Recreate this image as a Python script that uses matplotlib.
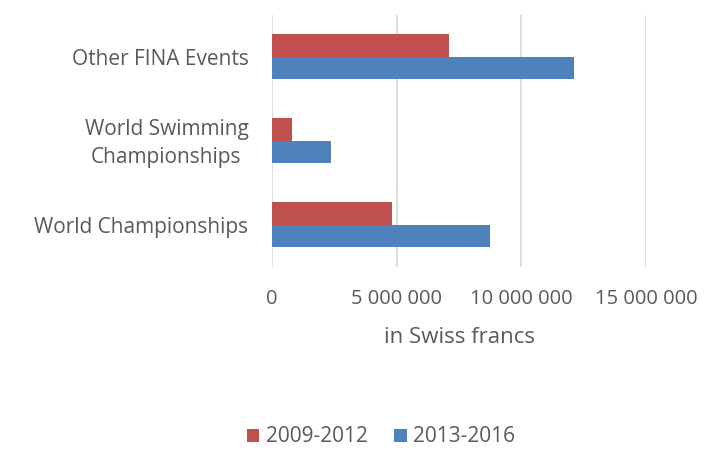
import matplotlib
matplotlib.use("Agg")
import matplotlib.pyplot as plt
import matplotlib.transforms as mtransforms
import numpy as np
from matplotlib.ticker import FuncFormatter

categories = ["World Championships", "World Swimming\nChampionships", "Other FINA Events"]
series_names = ["2009-2012", "2013-2016"]
values_2009_2012 = [4800000, 800000, 7100000]
values_2013_2016 = [8750000, 2350000, 12100000]
colors = ["#C0504D", "#4F81BD"]

plt.rcParams['font.family'] = ['Open Sans', 'DejaVu Sans']
text_color = "#595959"

fig = plt.figure(figsize=(7.27, 4.51), dpi=100)
ax = fig.add_axes([272/727, 1-266.5/451, (646-272)/727, 252/451])

y = np.arange(len(categories))
h = 0.268
ax.barh(y + h/2, values_2009_2012, height=h, color=colors[0], label=series_names[0], zorder=3)
ax.barh(y - h/2, values_2013_2016, height=h, color=colors[1], label=series_names[1], zorder=3)

ax.set_xlim(0, 15000000)
ax.set_ylim(-0.5, 2.5)
ax.set_xticks([0, 5000000, 10000000, 15000000])
ax.xaxis.set_major_formatter(FuncFormatter(lambda v, p: f"{int(v):,}".replace(",", " ")))
ax.set_yticks(y)
ax.set_yticklabels(categories, ha="right", multialignment="center", linespacing=1.45)
ax.grid(axis="x", color="#D9D9D9", linewidth=1.2, zorder=0)
for s in ax.spines.values():
    s.set_visible(False)
ax.tick_params(axis="x", length=0, labelsize=14.5, colors=text_color, pad=16)
ax.tick_params(axis="y", length=0, labelsize=15, colors=text_color, pad=17)
ax.set_xlabel("in Swiss francs", fontsize=16, color=text_color, labelpad=13)

lbl = ax.yaxis.get_major_ticks()[1].label1
lbl.set_transform(lbl.get_transform() + mtransforms.ScaledTranslation(0, 3/100, fig.dpi_scale_trans))

leg = fig.legend(loc="center", bbox_to_anchor=(381/727, 1-437/451), ncol=2, frameon=False,
                 fontsize=15, handlelength=0.6, handleheight=0.6, handletextpad=0.3,
                 columnspacing=1.3)
for t in leg.get_texts():
    t.set_color(text_color)

fig.savefig("out.png", dpi=100)
